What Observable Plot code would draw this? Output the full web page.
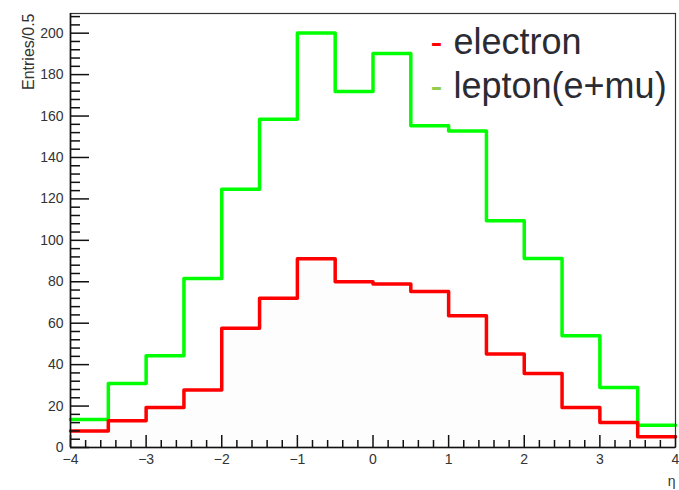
<!DOCTYPE html>
<html><head><meta charset="utf-8">
<script src="https://cdn.jsdelivr.net/npm/d3@7"></script>
<script src="https://cdn.jsdelivr.net/npm/@observablehq/plot@0.6"></script>
<style>
body{margin:0;background:#fff;font-family:"Liberation Sans",Arial,sans-serif}
</style></head><body><div id="wrap"></div><script>
// Bin edges (η), bin width 0.5
const binEdges = [-4,-3.5,-3,-2.5,-2,-1.5,-1,-0.5,0,0.5,1,1.5,2,2.5,3,3.5,4];
// Entries per bin
const electron = [8,12.9,19.3,27.8,57.6,72.1,91.1,80,78.9,75.3,63.6,45.1,35.7,19.3,12.1,5.2];
const lepton   = [13.5,30.9,44.3,81.6,124.7,158.5,200.1,171.8,190.2,155.3,152.8,109.4,91.2,53.9,29,10.8];
const legendLabels = ["electron", "lepton(e+mu)"];
const legendColors = ["#ff0000", "#8fce4f"];
const yTicks = [0,20,40,60,80,100,120,140,160,180,200];
const xTicks = [-4,-3,-2,-1,0,1,2,3,4];
const yMinor = d3.range(0, 209, 4).filter(v => !yTicks.includes(v));
const xMinor = d3.range(-4, 4.001, 0.2).map(v => +v.toFixed(1)).filter(v => !xTicks.includes(v));

// step points: each bin's left edge with its value, plus closing right edge
const steps = vals => binEdges.map((e, i) => ({x: e, y: vals[Math.min(i, vals.length - 1)]}));
const elecPts = steps(electron);
const lepPts = steps(lepton);

const W = 679, H = 490, mL = 70, mR = 4, mT = 13, mB = 43;
const pw = W - mL - mR, ph = H - mT - mB;

const chart = Plot.plot({
  width: W, height: H,
  marginLeft: mL, marginRight: mR, marginTop: mT, marginBottom: mB,
  style: {fontFamily: "Liberation Sans, Arial, sans-serif", fontSize: "14px", color: "#333", background: "#fff"},
  x: {domain: [-4, 4]},
  y: {domain: [0, 209.5]},
  marks: [
    Plot.areaY(elecPts, {x: "x", y: "y", curve: "step-after", fill: "#fdfdfd"}),
    Plot.line(lepPts, {x: "x", y: "y", curve: "step-after", stroke: "#00ff00", strokeWidth: 3.5}),
    Plot.line(elecPts, {x: "x", y: "y", curve: "step-after", stroke: "#ff0000", strokeWidth: 3.5}),
    Plot.frame({stroke: "#333", strokeWidth: 1.2}),
    Plot.ruleX([-4], {stroke: "#111", strokeWidth: 1.6}),
    Plot.ruleY([0], {stroke: "#111", strokeWidth: 1.6}),
    // inward ticks, ROOT style
    Plot.ruleY(yTicks, {y: d => d, insetRight: pw - 19, stroke: "#111", strokeWidth: 1.5}),
    Plot.ruleY(yMinor, {y: d => d, insetRight: pw - 10, stroke: "#111", strokeWidth: 1.5}),
    Plot.ruleX(xTicks, {x: d => d, insetTop: ph - 12, stroke: "#111", strokeWidth: 1.5}),
    Plot.ruleX(xMinor, {x: d => d, insetTop: ph - 7, stroke: "#111", strokeWidth: 1.5}),
    Plot.axisY({ticks: yTicks, tickSize: 0, tickPadding: 7, fontSize: 14, label: null}),
    Plot.axisX({ticks: xTicks, tickSize: 0, tickPadding: 7, fontSize: 14, label: null}),
    // axis titles
    Plot.text(["η"], {frameAnchor: "bottom-right", dx: 0, dy: 38, textAnchor: "end", lineAnchor: "bottom", fontSize: 14, fill: "#333"}),
    Plot.text(["Entries/0.5"], {frameAnchor: "top-left", dx: -42, dy: 0, rotate: -90, textAnchor: "end", lineAnchor: "middle", fontSize: 16, fill: "#333"}),
    // legend
    Plot.text(["-"], {frameAnchor: "top-left", dx: 360, dy: 40, textAnchor: "start", lineAnchor: "bottom", fontSize: 36, fill: legendColors[0]}),
    Plot.text([legendLabels[0]], {frameAnchor: "top-left", dx: 383, dy: 40, textAnchor: "start", lineAnchor: "bottom", fontSize: 36, fill: "#2b2b33"}),
    Plot.text(["-"], {frameAnchor: "top-left", dx: 360, dy: 84, textAnchor: "start", lineAnchor: "bottom", fontSize: 36, fill: legendColors[1]}),
    Plot.text([legendLabels[1]], {frameAnchor: "top-left", dx: 383, dy: 84, textAnchor: "start", lineAnchor: "bottom", fontSize: 36, fill: "#2b2b33"})
  ]
});
document.getElementById("wrap").appendChild(chart);
</script></body></html>
